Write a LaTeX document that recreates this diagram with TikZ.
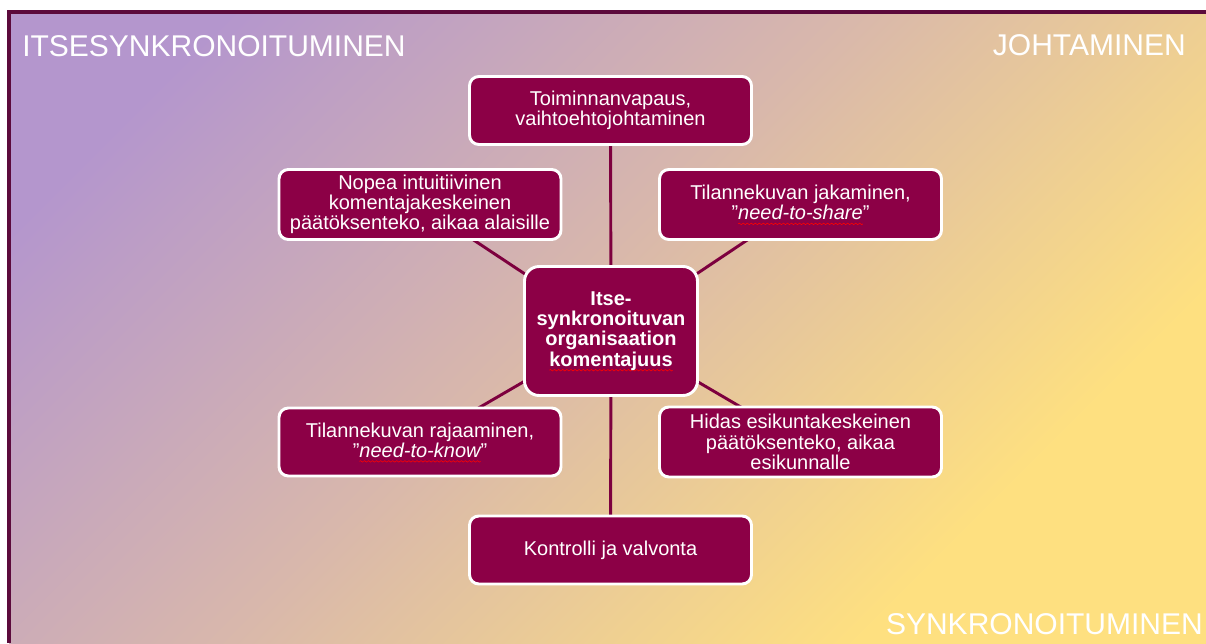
\documentclass[tikz,border=0pt]{standalone}
\usepackage{fontspec}
\setmainfont{Liberation Sans}
\usetikzlibrary{backgrounds}

\definecolor{berry}{RGB}{140,0,70}
\definecolor{berryline}{RGB}{125,0,62}
\definecolor{frameline}{RGB}{92,10,60}
\definecolor{lilac}{RGB}{180,150,205}
\definecolor{blush}{RGB}{216,183,172}
\definecolor{sand}{RGB}{254,224,128}

% diagonal wash from lilac (upper left) to sand (lower right)
\pgfdeclarehorizontalshading{lilacsand}{100bp}{color(0bp)=(lilac); color(23bp)=(lilac); color(47bp)=(blush); color(72bp)=(sand); color(100bp)=(sand)}

% red wavy underline of the spell checker
\newsavebox\wavebox
\newsavebox\wordbox
\newcommand\spellwave[1]{\sbox\wordbox{#1}%
  \rlap{\raisebox{-3pt}{\hbox to \wd\wordbox{\xleaders\copy\wavebox\hfil}}}\usebox\wordbox}

\pgfdeclarelayer{backdrop}
\pgfdeclarelayer{links}
\pgfsetlayers{backdrop,links,main}

\begin{document}
\sbox\wavebox{\begin{pgfpicture}
  \pgfpathmoveto{\pgfpointorigin}
  \pgfpathsine{\pgfpoint{0.75pt}{0.55pt}}
  \pgfpathcosine{\pgfpoint{0.75pt}{-0.55pt}}
  \pgfpathsine{\pgfpoint{0.75pt}{-0.55pt}}
  \pgfpathcosine{\pgfpoint{0.75pt}{0.55pt}}
  \pgfsetlinewidth{0.45pt}\pgfsetstrokecolor{red}\pgfusepath{stroke}
  \pgfresetboundingbox
  \pgfpathrectangle{\pgfpointorigin}{\pgfpoint{3pt}{0pt}}\pgfusepath{use as bounding box}
\end{pgfpicture}}%
\begin{tikzpicture}[x=0.75pt,y=-0.75pt,
  box/.style={draw=white, line width=2.2pt, fill=berry, rounded corners=7pt,
    text=white, align=center, inner sep=2pt, font=\fontsize{15}{15.2}\selectfont},
  wide/.style={box, minimum width=211.5pt, minimum height=51pt},
  link/.style={draw=berryline, line width=2.2pt},
  corner/.style={text=white, inner sep=0pt, font=\fontsize{22.5}{27}\selectfont}]
\useasboundingbox (0,0) rectangle (1206,643);

\begin{pgfonlayer}{backdrop}
  \fill[white] (0,0) rectangle (1206,643);
  \shade[shading=lilacsand, shading angle=-45] (9,12) rectangle (1206,643);
  \draw[frameline, line width=3pt] (1206,12) -- (9,12) -- (9,643);
\end{pgfonlayer}

% corner captions
\node[corner, anchor=base west] (tl) at (22,56) {ITSESYNKRONOITUMINEN};
\node[corner, anchor=base east] (tr) at (1186,55) {JOHTAMINEN};
\node[corner, anchor=base east] (br) at (1203,634) {SYNKRONOITUMINEN};

% boxes
\node[wide] (top) at (610.5,110.5) {Toiminnanvapaus,\\vaihtoehtojohtaminen};
\node[wide, minimum height=52.5pt] (fast) at (420,204.5)
  {Nopea intuitiivinen\\komentajakeskeinen\\päätöksenteko, aikaa alaisille};
\node[wide, minimum height=52.5pt] (share) at (800.5,204.5)
  {Tilannekuvan jakaminen,\\”\textit{\spellwave{need-to-share}}”};
\node[box, minimum width=129.75pt, minimum height=96.75pt, rounded corners=11pt,
  font=\bfseries\fontsize{15}{15.2}\selectfont] (core) at (611,331)
  {Itse-\\synkronoituvan\\organisaation\\\spellwave{komentajuus}};
\node[wide] (know) at (420,442) {Tilannekuvan rajaaminen,\\”\textit{\spellwave{need-to-know}}”};
\node[wide, minimum height=52.5pt] (slow) at (800.5,442)
  {Hidas esikuntakeskeinen\\päätöksenteko, aikaa\\esikunnalle};
\node[wide] (ctrl) at (610.5,550) {Kontrolli ja valvonta};

% spokes from the centre box
\begin{pgfonlayer}{links}
  \foreach \n in {top,fast,share,know,slow,ctrl}
    \draw[link] (core.center) -- (\n.center);
\end{pgfonlayer}
\end{tikzpicture}
\end{document}
